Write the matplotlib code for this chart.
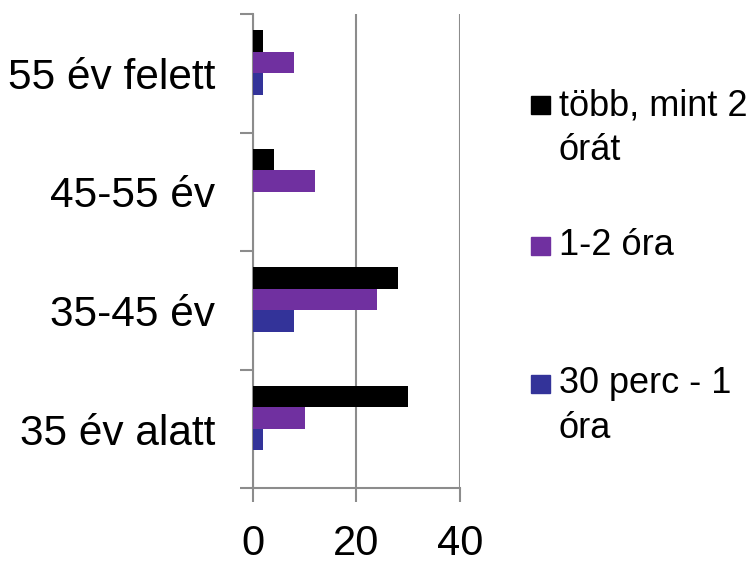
import matplotlib.pyplot as plt
from matplotlib.patches import Rectangle

plt.rcParams['font.family'] = ['Liberation Sans', 'DejaVu Sans']

groups = ['35 év alatt', '35-45 év', '45-55 év', '55 év felett']
series = ['30 perc - 1\nóra', '1-2 óra', 'több, mint 2\nórát']
perc_30_1 = [2, 8, 0, 2]
ora_1_2 = [10, 24, 12, 8]
tobb_2 = [30, 28, 4, 2]
colors = ['#333399', '#7030a0', '#000000']
xticks = [0, 20, 40]

W, H = 756, 563
fig = plt.figure(figsize=(W / 100, H / 100), dpi=100)
ax = fig.add_axes([253 / W, 1 - 488.3 / H, (459.7 - 253) / W, (488.3 - 14) / H])

bh = 0.181
offsets = [-0.09, 0.093, 0.274]
y = list(range(len(groups)))
for vals, off, c in zip([perc_30_1, ora_1_2, tobb_2], offsets, colors):
    ax.barh([i + off for i in y], vals, height=bh, color=c, zorder=3)

grey = '#8c8c8c'
ax.set_xlim(0, 40)
ax.set_ylim(-0.5, 3.5)
ax.set_xticks(xticks)
ax.set_xticklabels([str(v) for v in xticks], fontsize=30)
ax.xaxis.grid(True, color=grey, lw=1.5, zorder=0)
ax.tick_params(axis='x', length=10, width=1.5, color=grey, pad=16)

ax.set_yticks([-0.5, 0.5, 1.5, 2.5, 3.5])
ax.set_yticklabels([])
ax.set_yticks(y, minor=True)
ax.set_yticklabels(groups, minor=True, fontsize=30.5)
ax.tick_params(axis='y', which='major', length=9.5, width=1.5, color=grey)
ax.tick_params(axis='y', which='minor', length=0, pad=27)

for s in ['top', 'right']:
    ax.spines[s].set_visible(False)
for s in ['left', 'bottom']:
    ax.spines[s].set_color(grey)
    ax.spines[s].set_linewidth(1.5)

# legend, drawn by hand: square + wrapped label
entries = [(2, 105.5, [115, 160]), (1, 245.5, [255]), (0, 383.5, [393.3, 438.3])]
for k, sq_y, baselines in entries:
    fig.patches.append(Rectangle((531 / W, 1 - (sq_y + 9) / H), 19 / W, 18 / H,
                                 transform=fig.transFigure, color=colors[k]))
    for line, b in zip(series[k].split('\n'), baselines):
        fig.text(559 / W, 1 - b / H, line, fontsize=26, va='baseline', ha='left')

fig.savefig('out.png', dpi=100)
